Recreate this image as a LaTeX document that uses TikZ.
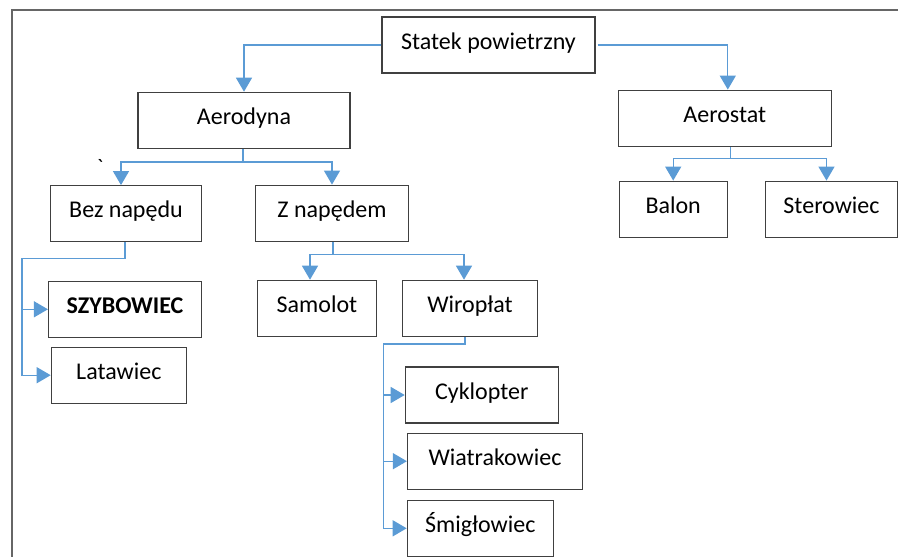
\documentclass[tikz,border=0pt]{standalone}
\usepackage{fontspec}
\setmainfont{Carlito}
\usepackage{xcolor}
\usepackage{tikz}
\usetikzlibrary{arrows.meta}
\usetikzlibrary{positioning}
\definecolor{linia}{RGB}{91,155,213}
\definecolor{ramka}{RGB}{64,64,64}

\begin{document}
\begin{tikzpicture}[x=1pt, y=-1pt,
        box/.style={draw=ramka, line width=1.2pt, minimum height=56pt, inner sep=0pt,
                    text height=14pt, text depth=6pt, font=\fontsize{24}{28}\selectfont},
        link/.style={draw=linia, line width=1.3pt, -{Triangle[width=16pt,length=14pt]}},
        branch/.style={draw=linia, line width=1.3pt}]

        \useasboundingbox (0,0) rectangle (898,557);

        % Ramka
        \draw[gray!80!black, line width=1.5pt] (12,557) -- (12,10) -- (898,10);

        % Węzły
        \node[box, minimum width=213pt] (statek) at (488.5,45) {Statek powietrzny};
        \node[box, minimum width=212pt] (aerodyna) at (244,120.3) {Aerodyna};
        \node[box, minimum width=213pt] (aerostat) at (724.8,118.2) {Aerostat};
        \node[box, minimum width=151pt] (bez) at (126,213.7) {Bez napędu};
        \node[box, minimum width=153pt] (zn) at (332,213.2) {Z napędem};
        \node[box, minimum width=108pt] (balon) at (673.2,209.2) {Balon};
        \node[box, minimum width=132pt] (sterowiec) at (831.5,209.2) {Sterowiec};
        \node[box, minimum width=153pt] (szyb) at (125,309.3) {\textbf{SZYBOWIEC}};
        \node[box, minimum width=135pt] (lataw) at (118.8,375.2) {Latawiec};
        \node[box, minimum width=119pt] (samolot) at (317,308.3) {Samolot};
        \node[box, minimum width=135pt] (wiro) at (470,308.3) {Wiropłat};
        \node[box, minimum width=153pt] (cyklo) at (481.8,395) {Cyklopter};
        \node[box, minimum width=175pt] (wiatrak) at (495,461.2) {Wiatrakowiec};
        \node[box, minimum width=146pt] (smig) at (480.3,528.3) {Śmigłowiec};
        \node[font=\fontsize{22}{24}\selectfont, inner sep=0pt] (kreska) at (100,167) {\textasciigrave};

        % Połączenia
        \draw[link] (statek.west) -| (aerodyna.north);
        \draw[link] ([xshift=2pt]statek.east) -| ([xshift=3pt]aerostat.north);

        \draw[branch] ([xshift=-1pt]aerodyna.south) -- ++(0,13) coordinate (ad);
        \draw[link] (ad) -| ([xshift=-5pt]bez.north);
        \draw[link] (ad) -| (zn.north);

        \draw[branch] ([xshift=6pt]aerostat.south) -- ++(0,12) coordinate (as);
        \draw[link] (as) -| (balon.north);
        \draw[link] (as) -| ([xshift=-5pt]sterowiec.north);

        \coordinate (bp) at ([xshift=-26pt]szyb.west);
        \draw[link] ([xshift=-1pt]bez.south) -- ++(0,16) -| (bp) |- (szyb.west);
        \draw[link] (bp) |- (lataw.west);

        \draw[branch] ([xshift=1pt]zn.south) -- ++(0,13) coordinate (zs);
        \draw[link] (zs) -| ([xshift=-7pt]samolot.north);
        \draw[link] (zs) -| ([xshift=-6pt]wiro.north);

        \coordinate (wp) at ([xshift=-21pt]cyklo.west);
        \draw[branch] ([xshift=-5pt]wiro.south) -- ++(0,7) -| (wp);
        \draw[link] (wp) |- (cyklo.west);
        \draw[link] (wp) |- (wiatrak.west);
        \draw[link] (wp) |- (smig.west);

\end{tikzpicture}
\end{document}
